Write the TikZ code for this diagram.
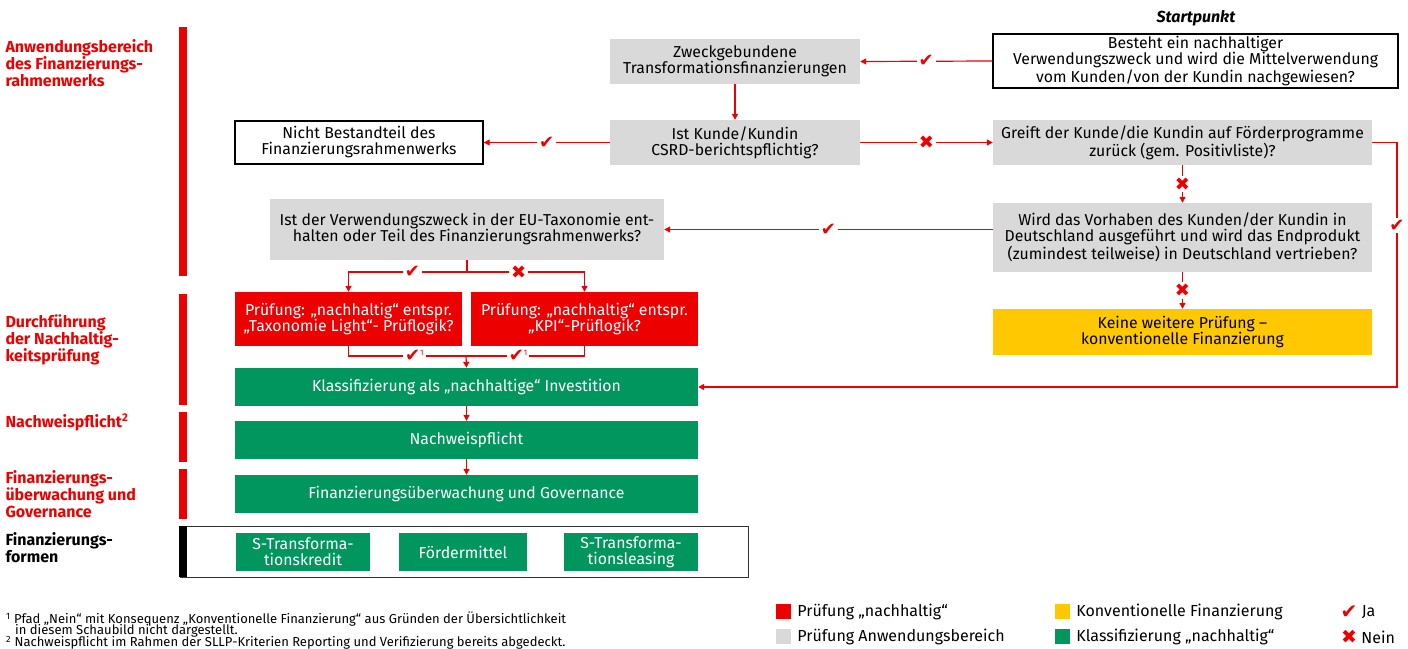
\documentclass[tikz,border=0pt]{standalone}
\usepackage{fontspec}
\setmainfont{Fira Sans}
\newfontfamily\symfont{DejaVu Sans}
\usetikzlibrary{arrows.meta,positioning}
\definecolor{sred}{RGB}{236,0,0}
\definecolor{sgray}{RGB}{217,217,217}
\definecolor{sgreen}{RGB}{0,150,94}
\definecolor{syellow}{RGB}{255,200,0}
\newcommand\jamark{{\symfont\char"2714}}
\newcommand\neinmark{{\symfont\char"2716}}
\newcommand\fnone{\raisebox{6pt}{\fontsize{8}{8}\selectfont 1}}
\begin{document}
\begin{tikzpicture}[x=1pt,y=-1pt,
  font=\fontsize{15.8}{16}\selectfont,
  gbox/.style={fill=sgray, align=center, inner sep=0pt},
  wbox/.style={draw=black, line width=1.3pt, fill=white, align=center, inner sep=0pt},
  rbox/.style={fill=sred, text=white, align=center, inner sep=0pt},
  grbox/.style={fill=sgreen, text=white, align=center, inner sep=0pt},
  ybox/.style={fill=syellow, align=center, inner sep=0pt},
  arr/.style={draw=sred, line width=1.2pt, -{Triangle[length=6pt,width=6pt]}},
  lin/.style={draw=sred, line width=1.2pt},
  ja/.style={fill=white, text=sred, inner sep=2pt, font=\fontsize{18}{18}\selectfont},
  sect/.style={anchor=north west, align=left, text=sred, font=\bfseries\fontsize{16}{17}\selectfont},
  bar/.style={fill=sred},
  legsq/.style={minimum size=15pt, inner sep=0pt},
  legtxt/.style={right=6pt, anchor=west, inner sep=0pt, font=\fontsize{16}{16}\selectfont},
  note/.style={anchor=west, inner sep=0pt, font=\fontsize{13}{12}\selectfont}]
\useasboundingbox (0,0) rectangle (1408,648);

% sections on the left
\fill[bar] (179,27) rectangle (187,276);
\fill[bar] (179,294) rectangle (187,405);
\fill[bar] (179,412) rectangle (187,462);
\fill[bar] (179,469) rectangle (187,519);
\node[sect] (s1) at (2,36) {Anwendungsbereich\\des Finanzierungs-\\rahmenwerks};
\node[sect] (s2) at (2,311) {Durchführung\\der Nachhaltig-\\keitsprüfung};
\node[sect] (s3) at (2,410) {Nachweispflicht\textsuperscript{2}};
\node[sect] (s4) at (2,467) {Finanzierungs-\\überwachung und\\Governance};
\node[sect, text=black] (s5) at (2,529) {Finanzierungs-\\formen};

% scope check
\node[font=\bfseries\itshape\fontsize{16}{16}\selectfont] (sp) at (1196,18) {Startpunkt};
\node[wbox, minimum width=405pt, minimum height=54pt] (start) at (1195.5,61) {Besteht ein nachhaltiger\\Verwendungszweck und wird die Mittelverwendung\\vom Kunden/von der Kundin nachgewiesen?};
\node[gbox, minimum width=250pt, minimum height=45pt] (zweck) at (735,61.5) {Zweckgebundene\\Transformationsfinanzierungen};
\node[gbox, minimum width=250pt, minimum height=45pt] (csrd) at (735,142.5) {Ist Kunde/Kundin\\CSRD-berichtspflichtig?};
\node[wbox, minimum width=248pt, minimum height=43pt] (nicht) at (359,142.5) {Nicht Bestandteil des\\Finanzierungsrahmenwerks};
\node[gbox, minimum width=379pt, minimum height=45pt] (greift) at (1182.5,142.5) {Greift der Kunde/die Kundin auf Förderprogramme\\zurück (gem. Positivliste)?};
\node[gbox, minimum width=379pt, minimum height=69pt] (wird) at (1182.5,237.5) {Wird das Vorhaben des Kunden/der Kundin in\\Deutschland ausgeführt und wird das Endprodukt\\(zumindest teilweise) in Deutschland vertrieben?};
\node[ybox, minimum width=379pt, minimum height=46pt] (keine) at (1182.5,332) {Keine weitere Prüfung –\\konventionelle Finanzierung};
\node[gbox, minimum width=394pt, minimum height=61pt] (verw) at (467,229.5) {Ist der Verwendungszweck in der EU-Taxonomie ent-\\halten oder Teil des Finanzierungsrahmenwerks?};

% sustainability check
\node[rbox, minimum width=227pt, minimum height=54pt] (tax) at (348.5,319) {Prüfung: „nachhaltig“ entspr.\\„Taxonomie Light“- Prüflogik?};
\node[rbox, minimum width=227pt, minimum height=54pt] (kpi) at (584.5,319) {Prüfung: „nachhaltig“ entspr.\\„KPI“-Prüflogik?};
\node[grbox, minimum width=463pt, minimum height=38pt] (klass) at (466.5,387) {Klassifizierung als „nachhaltige“ Investition};
\node[grbox, minimum width=463pt, minimum height=38pt] (nachw) at (466.5,440) {Nachweispflicht};
\node[grbox, minimum width=463pt, minimum height=38pt] (ueberw) at (466.5,494) {Finanzierungsüberwachung und Governance};

% financing forms
\draw[black!80, line width=1pt] (180,526) rectangle (748,577);
\fill[black] (179,526) rectangle (187,577);
\node[grbox, minimum width=134pt, minimum height=38pt] (kredit) at (303,552) {S-Transforma-\\tionskredit};
\node[grbox, minimum width=128pt, minimum height=38pt] (foerd) at (463,552) {Fördermittel};
\node[grbox, minimum width=134pt, minimum height=38pt] (leas) at (631,552) {S-Transforma-\\tionsleasing};

% connectors
\coordinate (split) at (467,272);
\coordinate (merge) at (466,356);
\coordinate (rc1) at (1397,142.5);
\coordinate (rc2) at (1397,387);
\path[arr] (start.west) -- node[ja]{\jamark} (zweck.east);
\path[arr] (zweck.south) -- (csrd.north);
\path[arr] (csrd.west) -- node[ja]{\jamark} (nicht.east);
\path[arr] (csrd.east) -- node[ja]{\neinmark} (greift.west);
\path[arr] (greift.south) -- node[ja]{\neinmark} (wird.north);
\path[arr] (wird.south) -- node[ja]{\neinmark} (keine.north);
\path[arr] (verw.east -| wird.west) -- node[ja]{\jamark} (verw.east);
\path[arr] (greift.east) -- (rc1) -- node[ja, pos=0.34]{\jamark} (rc2) -- (klass.east);
\path[lin] (verw.south) -- (split);
\path[arr] (split) -| node[ja, pos=0.23]{\jamark} (tax.north);
\path[arr] (split) -| node[ja, pos=0.22]{\neinmark} (kpi.north);
\path[lin] (tax.south) |- node[ja, pos=0.78]{\jamark\fnone} (merge);
\path[lin] (kpi.south) |- node[ja, pos=0.78]{\jamark\fnone} (merge);
\path[arr] (merge) -- (klass.north);
\path[arr] (klass.south) -- (nachw.north);
\path[arr] (nachw.south) -- (ueberw.north);

% legend
\node[legsq, fill=sred] (l1) at (783.5,611.5) {};
\node[legtxt] (t1) at (l1.east) {Prüfung „nachhaltig“};
\node[legsq, fill=sgray] (l2) at (783.5,636.5) {};
\node[legtxt] (t2) at (l2.east) {Prüfung Anwendungsbereich};
\node[legsq, fill=syellow] (l3) at (1062.5,611.5) {};
\node[legtxt] (t3) at (l3.east) {Konventionelle Finanzierung};
\node[legsq, fill=sgreen] (l4) at (1062.5,636.5) {};
\node[legtxt] (t4) at (l4.east) {Klassifizierung „nachhaltig“};
\node[text=sred, inner sep=0pt, font=\fontsize{20}{20}\selectfont] (l5) at (1349,612) {\jamark};
\node[legtxt, right=4pt] (t5) at (l5.east) {Ja};
\node[text=sred, inner sep=0pt, font=\fontsize{19}{19}\selectfont] (l6) at (1349,637) {\neinmark};
\node[legtxt, right=4pt] (t6) at (l6.east) {Nein};

% footnotes
\node[note] (f1) at (6,619) {\textsuperscript{1} Pfad „Nein“ mit Konsequenz „Konventionelle Finanzierung“ aus Gründen der Übersichtlichkeit};
\node[note] (f2) at (15,631) {in diesem Schaubild nicht dargestellt.};
\node[note] (f3) at (6,643) {\textsuperscript{2} Nachweispflicht im Rahmen der SLLP-Kriterien Reporting und Verifizierung bereits abgedeckt.};
\end{tikzpicture}
\end{document}
